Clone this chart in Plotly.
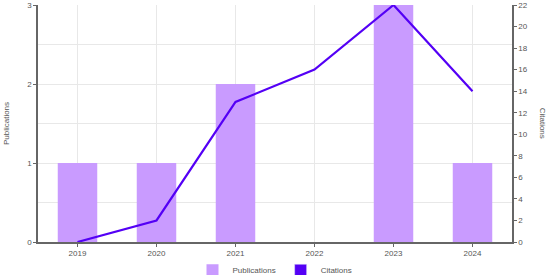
import plotly.graph_objects as go

years = ['2019', '2020', '2021', '2022', '2023', '2024']
publications = [1, 1, 2, 0, 3, 1]
citations = [0, 2, 13, 16, 22, 14]

BAR_COLOR = '#c99bff'
LINE_COLOR = '#5400f5'
FONT = dict(family='Liberation Sans, Arial, sans-serif', size=8, color='#555555')

fig = go.Figure()
fig.add_trace(go.Bar(
    x=years, y=publications, name='Publications',
    marker=dict(color=BAR_COLOR, line_width=0),
    yaxis='y',
))
fig.add_trace(go.Scatter(
    x=years, y=citations, name='Citations', mode='lines',
    line=dict(color=LINE_COLOR, width=2.2),
    yaxis='y2', showlegend=False,
))
# legend swatch for citations drawn as a square like the reference
fig.add_trace(go.Bar(
    x=years, y=[None] * len(years), name='Citations',
    marker=dict(color=LINE_COLOR), yaxis='y', hoverinfo='skip',
))

axis_common = dict(
    showline=True, linecolor='#666666', linewidth=1.5,
    ticks='outside', ticklen=3, tickcolor='#666666',
    gridcolor='#e8e8e8', gridwidth=1, zeroline=False,
    tickfont=FONT, automargin=False,
)

fig.update_layout(
    width=550, height=275,
    margin=dict(l=38, r=38, t=5, b=33, autoexpand=False),
    paper_bgcolor='white', plot_bgcolor='white',
    barmode='overlay', bargap=0.5,
    font=FONT,
    xaxis=dict(**axis_common, type='category'),
    yaxis=dict(**axis_common, range=[0, 3], dtick=1,
               minor=dict(dtick=0.5, showgrid=True, gridcolor='#e8e8e8', ticks=''),
               title=dict(text='Publications', font=dict(size=8, color='#555555'), standoff=16)),
    yaxis2=dict(**axis_common, overlaying='y', side='right', range=[0, 22],
                dtick=2, showgrid=False),
    legend=dict(orientation='h', x=0.5, xanchor='center', y=-0.058, yanchor='top',
                font=dict(size=8, color='#555555'), itemwidth=30),
    annotations=[dict(
        text='Citations', textangle=90, xref='paper', yref='paper',
        x=1.065, y=0.5, xanchor='center', yanchor='middle', showarrow=False,
        font=dict(size=8, color='#555555'),
    )],
)

fig.write_html('out.html', config={'displayModeBar': False},
               post_script="document.body.style.margin='0';")
